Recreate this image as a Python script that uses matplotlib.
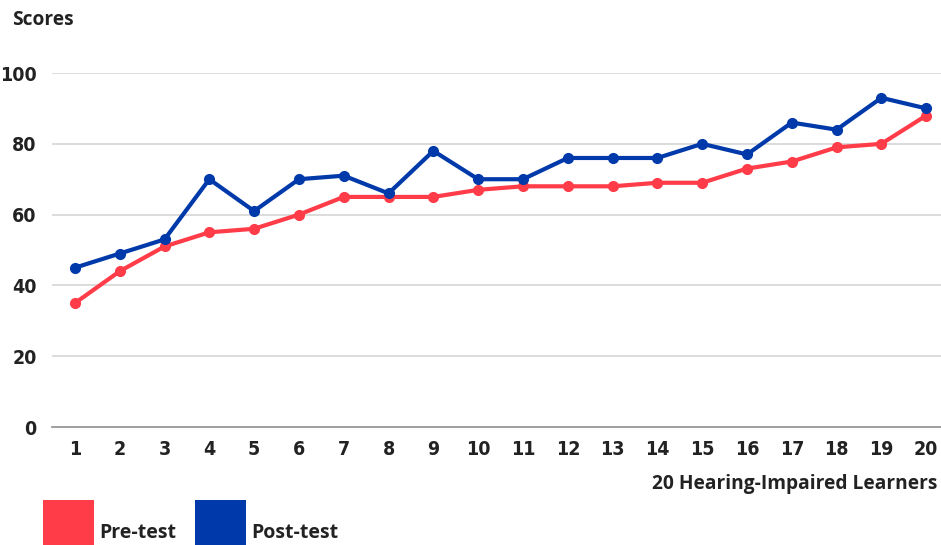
import matplotlib
matplotlib.use("Agg")
import matplotlib.pyplot as plt
from matplotlib.patches import Rectangle

learners = list(range(1, 21))
pre_test = [35, 44, 51, 55, 56, 60, 65, 65, 65, 67, 68, 68, 68, 69, 69, 73, 75, 79, 80, 88]
post_test = [45, 49, 53, 70, 61, 70, 71, 66, 78, 70, 70, 76, 76, 76, 80, 77, 86, 84, 93, 90]

red = "#ff3c48"
blue = "#0039a9"
tick_font = ["DejaVu Sans"]
label_font = ["Open Sans", "DejaVu Sans"]

fig = plt.figure(figsize=(9.41, 5.45), dpi=100)
ax = fig.add_axes([0.0553, 0.2165, 0.9447, 0.6495])

ax.plot(learners, pre_test, color=red, lw=3, marker="o", ms=7, zorder=3)
ax.plot(learners, post_test, color=blue, lw=3, marker="o", ms=7, zorder=4)

ax.set_xlim(0.49, 20.33)
ax.set_ylim(0, 100)
ax.set_xticks(learners)
ax.set_yticks([0, 20, 40, 60, 80, 100])
ax.grid(axis="y", color="#d9d9d9", lw=1.3)
ax.set_axisbelow(True)
for s in ["top", "right", "left"]:
    ax.spines[s].set_visible(False)
ax.spines["bottom"].set_color("#999999")
ax.spines["bottom"].set_linewidth(1.3)
ax.tick_params(length=0, labelsize=14, pad=9, colors="#222222")
ax.tick_params(axis="y", pad=11)
for lab in ax.get_xticklabels() + ax.get_yticklabels():
    lab.set_family(tick_font)
    lab.set_fontweight("bold")
    lab.set_fontstretch("condensed")

fig.text(12 / 941, 1 - 20 / 545, "Scores", family=label_font, fontweight="bold",
         fontsize=13.8, color="#222222", va="center", ha="left")
fig.text(937 / 941, 1 - 484 / 545, "20 Hearing-Impaired Learners", family=label_font,
         fontweight="bold", fontsize=13.8, color="#222222", va="center", ha="right")

# legend
for x0, col, name in [(43, red, "Pre-test"), (195, blue, "Post-test")]:
    fig.add_artist(Rectangle((x0 / 941, 0), 51 / 941, 45 / 545,
                             transform=fig.transFigure, color=col, lw=0))
    fig.text((x0 + 56) / 941, 1 - 533 / 545, name, family=label_font,
             fontweight="bold", fontsize=14, color="#222222", va="center", ha="left")

fig.savefig("out.png", dpi=100)
